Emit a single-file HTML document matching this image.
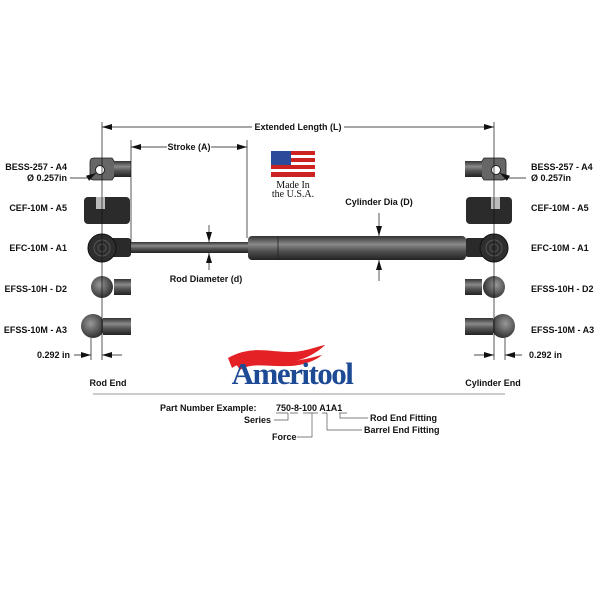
<!DOCTYPE html>
<html><head><meta charset="utf-8"><style>
body{margin:0;background:#fff}
svg text{font-family:"Liberation Sans",sans-serif;font-weight:bold;font-size:9px;fill:#111}
</style></head><body>
<svg width="600" height="600" viewBox="0 0 600 600" xmlns="http://www.w3.org/2000/svg">
<defs>
<linearGradient id="g" x1="0" y1="0" x2="0" y2="1">
<stop offset="0" stop-color="#333"/><stop offset=".35" stop-color="#8a8a8a"/><stop offset=".6" stop-color="#555"/><stop offset="1" stop-color="#222"/></linearGradient>
<radialGradient id="b" cx=".4" cy=".4" r=".6"><stop offset="0" stop-color="#999"/><stop offset="1" stop-color="#333"/></radialGradient>
<marker id="a" markerWidth="10" markerHeight="8" refX="10" refY="4" orient="auto" markerUnits="userSpaceOnUse"><path d="M0,1L10,4L0,7z" fill="#111"/></marker>
<g id="fit">
<path d="M90,162 q0,-4 4,-4 h18 l4,6 v10 l-4,6 h-18 q-4,0 -4,-4z" fill="#666" stroke="#222" stroke-width=".8"/>
<circle cx="100" cy="170" r="4.5" fill="#fff" stroke="#222"/>
<rect x="114" y="161" width="17" height="16" fill="url(#g)"/>
<rect x="84" y="197" width="46" height="27" rx="4" fill="#2b2b2b"/>
<rect x="96" y="197" width="9" height="12" fill="#bbb"/>
<rect x="108" y="238" width="23" height="19" rx="3" fill="#2a2a2a"/>
<circle cx="102" cy="248" r="14" fill="#2e2e2e" stroke="#111"/>
<circle cx="102" cy="248" r="8" fill="none" stroke="#555"/>
<circle cx="102" cy="248" r="4" fill="none" stroke="#555"/>
<circle cx="102" cy="287" r="11" fill="url(#b)"/>
<rect x="114" y="279" width="17" height="16" fill="url(#g)"/>
<circle cx="93" cy="326" r="12" fill="url(#b)"/>
<rect x="103" y="318" width="28" height="17" fill="url(#g)"/>
<line x1="91" y1="338" x2="91" y2="360" stroke="#111" stroke-width=".7"/>
<line x1="74" y1="355" x2="91" y2="355" stroke="#111" stroke-width=".7" marker-end="url(#a)"/>
<line x1="122" y1="355" x2="102" y2="355" stroke="#111" stroke-width=".7" marker-end="url(#a)"/>
<line x1="102" y1="122" x2="102" y2="360" stroke="#111" stroke-width=".7"/>
<line x1="70" y1="178" x2="88" y2="178" stroke="#111" stroke-width=".7"/>
<line x1="88" y1="178" x2="96" y2="173" stroke="#111" stroke-width=".7" marker-end="url(#a)"/>
</g>
</defs>
<use href="#fit"/>
<use href="#fit" transform="translate(596,0) scale(-1,1)"/>
<line x1="102" y1="127" x2="252" y2="127" stroke="#111" stroke-width=".7"/>
<line x1="344" y1="127" x2="494" y2="127" stroke="#111" stroke-width=".7"/>
<path d="M102,127l10,-3v6z M494,127l-10,-3v6z" fill="#111"/>
<text x="298" y="130" text-anchor="middle">Extended Length (L)</text>
<line x1="131" y1="140" x2="131" y2="252" stroke="#111" stroke-width=".7"/>
<line x1="247" y1="140" x2="247" y2="238" stroke="#111" stroke-width=".7"/>
<line x1="131" y1="147" x2="167" y2="147" stroke="#111" stroke-width=".7"/>
<line x1="211" y1="147" x2="247" y2="147" stroke="#111" stroke-width=".7"/>
<path d="M131,147l10,-3v6z M247,147l-10,-3v6z" fill="#111"/>
<text x="189" y="150" text-anchor="middle">Stroke (A)</text>
<rect x="131" y="242" width="118" height="11" fill="url(#g)"/>
<rect x="248" y="236" width="218" height="24" rx="4" fill="url(#g)"/>
<line x1="278" y1="236" x2="278" y2="260" stroke="#222" stroke-width=".8"/>
<line x1="209" y1="225" x2="209" y2="242" stroke="#111" stroke-width=".7" marker-end="url(#a)"/>
<line x1="209" y1="270" x2="209" y2="253" stroke="#111" stroke-width=".7" marker-end="url(#a)"/>
<text x="206" y="282" text-anchor="middle">Rod Diameter (d)</text>
<text x="379" y="205" text-anchor="middle">Cylinder Dia (D)</text>
<line x1="379" y1="213" x2="379" y2="236" stroke="#111" stroke-width=".7" marker-end="url(#a)"/>
<line x1="379" y1="281" x2="379" y2="260" stroke="#111" stroke-width=".7" marker-end="url(#a)"/>
<g transform="translate(271,151)">
<rect width="44" height="26" fill="#c22"/>
<rect y="4" width="44" height="3" fill="#fff"/><rect y="11" width="44" height="3" fill="#fff"/><rect y="18" width="44" height="3" fill="#fff"/>
<rect width="20" height="14" fill="#2a4a9a"/>
</g>
<text x="293" y="188" text-anchor="middle" style="font-family:'Liberation Serif',serif;font-weight:normal;font-size:10px">Made In</text>
<text x="293" y="197" text-anchor="middle" style="font-family:'Liberation Serif',serif;font-weight:normal;font-size:10px">the U.S.A.</text>
<g text-anchor="end">
<text x="67" y="170">BESS-257 - A4</text><text x="67" y="181">Ø 0.257in</text>
<text x="67" y="211">CEF-10M - A5</text><text x="67" y="251">EFC-10M - A1</text>
<text x="67" y="292">EFSS-10H - D2</text><text x="67" y="333">EFSS-10M - A3</text>
<text x="70" y="358">0.292 in</text>
</g>
<text x="531" y="170">BESS-257 - A4</text><text x="531" y="181">Ø 0.257in</text>
<text x="531" y="211">CEF-10M - A5</text><text x="531" y="251">EFC-10M - A1</text>
<text x="531" y="292">EFSS-10H - D2</text><text x="531" y="333">EFSS-10M - A3</text>
<text x="529" y="358">0.292 in</text>
<path d="M228,358 C250,345 270,352 290,352 C305,352 318,346 325,345 C318,352 305,360 290,362 C268,364 250,356 232,368z" fill="#e42125"/>
<path d="M236,364 C255,356 272,362 292,361 C306,360 316,356 322,355 C314,362 300,366 288,366 C268,367 252,362 240,370z" fill="#e42125"/>
<text x="292" y="384" text-anchor="middle" style="font-family:'Liberation Serif',serif;font-size:31px;fill:#1d4a94;letter-spacing:-1.5px">Ameritool</text>
<line x1="93" y1="394" x2="505" y2="394" stroke="#999" stroke-width="1"/>
<text x="108" y="386" text-anchor="middle">Rod End</text>
<text x="493" y="386" text-anchor="middle">Cylinder End</text>
<text x="160" y="411">Part Number Example:</text>
<text x="276" y="411">750-8-100 A1A1</text>
<text x="244" y="423">Series</text>
<text x="272" y="440">Force</text>
<text x="370" y="421">Rod End Fitting</text>
<text x="364" y="433">Barrel End Fitting</text>
<g stroke="#555" stroke-width=".7" fill="none">
<path d="M276,413h12M290,413h8M303,413h15M322,413h5M339,413h8"/>
<path d="M288,413v7h-14"/><path d="M312,413v24h-15"/>
<path d="M327,413v17h35"/><path d="M340,413v5h28"/>
</g>
</svg>
</body></html>
